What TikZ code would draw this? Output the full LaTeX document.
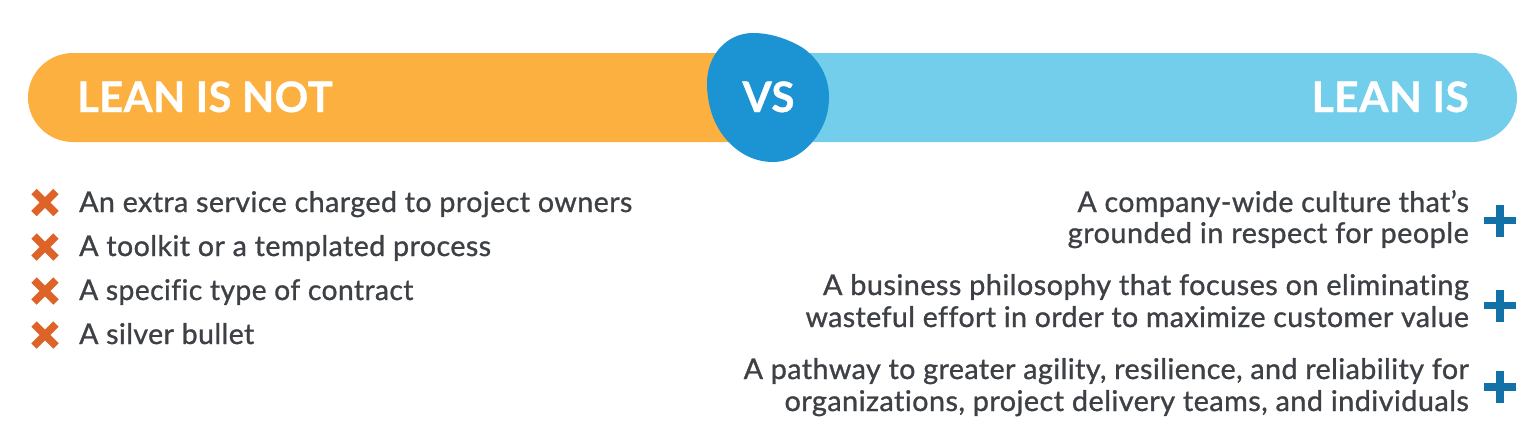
\documentclass[tikz,border=0pt]{standalone}
\usepackage{fontspec}
\setmainfont{Lato}
\newfontfamily\bodyfont[FakeBold=1,LetterSpace=1.5,Ligatures=NoCommon]{Lato}
\newfontfamily\headfont[FakeBold=0.8,LetterSpace=1]{Lato Bold}
\definecolor{orangebar}{HTML}{FBB040}
\definecolor{bluebar}{HTML}{73CEEB}
\definecolor{blobblue}{HTML}{1C93D2}
\definecolor{crossc}{HTML}{DE6328}
\definecolor{plusc}{HTML}{1272A8}
\definecolor{textc}{HTML}{3D4044}
\tikzset{
  x=1pt,y=-1pt,
  title/.style={text=white,inner sep=0pt,font=\headfont\fontsize{42}{42}\selectfont},
  itemL/.style={text=textc,inner sep=0pt,anchor=base west,font=\bodyfont\fontsize{28.5}{28.5}\selectfont},
  itemR/.style={text=textc,inner sep=0pt,anchor=base east,font=\bodyfont\fontsize{28.5}{28.5}\selectfont},
  crossm/.style={crossc,line width=7.6pt},
  plusm/.style={plusc,line width=7.3pt},
}
\newcommand{\crossat}[2]{\draw[crossm] (#1-11,#2-11) -- (#1+11,#2+11) (#1-11,#2+11) -- (#1+11,#2-11);}
\newcommand{\plusat}[2]{\draw[plusm] (#1-16,#2) -- (#1+16,#2) (#1,#2-16) -- (#1,#2+16);}
\newcommand{\hfit}[2]{\scalebox{#1}[1]{#2}}
\begin{document}
\begin{tikzpicture}
\useasboundingbox (0,0) rectangle (1536,447);
\fill[orangebar] (760,53) -- (73,53) arc[start angle=90,end angle=270,x radius=45,y radius=-44.5] -- (760,142) -- cycle;
\fill[bluebar] (770,53) -- (1472,53) arc[start angle=90,end angle=-90,x radius=45,y radius=-44.5] -- (770,142) -- cycle;
\fill[blobblue] (753,33) .. controls (772,33) and (790,40) .. (803,48)
  .. controls (820,60) and (829,78) .. (829,97)
  .. controls (829,112) and (825,124) .. (817,136)
  .. controls (806,152) and (790,162) .. (773,162)
  .. controls (753,162) and (735,152) .. (722,134)
  .. controls (712,120) and (707,102) .. (707,83)
  .. controls (707,55) and (727,33) .. (753,33) -- cycle;
\node[title,anchor=base west] (not) at (77,112) {\hfit{0.993}{LEAN IS NOT}};
\node[title,anchor=base] (vs) at (768.5,112) {VS};
\node[title,anchor=base east] (is) at (1469,112) {\hfit{1.012}{LEAN IS}};
\crossat{45}{202.5}\crossat{45}{247}\crossat{45}{291}\crossat{45}{335}
\node[itemL] (l1) at (79,212) {\hfit{1.005}{An extra service charged to project owners}};
\node[itemL] (l2) at (79,256) {\hfit{1.005}{A toolkit or a templated process}};
\node[itemL] (l3) at (79,300) {\hfit{0.99}{A specific type of contract}};
\node[itemL] (l4) at (79,344) {A silver bullet};
\node[itemR] (r1) at (1469,212) {A company-wide culture that’s};
\node[itemR] (r2) at (1469,243) {\hfit{1.015}{grounded in respect for people}};
\node[itemR] (r3) at (1469,295) {\hfit{1.0125}{A business philosophy that focuses on eliminating}};
\node[itemR] (r4) at (1469,327) {wasteful effort in order to maximize customer value};
\node[itemR] (r5) at (1469,379) {\hfit{1.0055}{A pathway to greater agility, resilience, and reliability for}};
\node[itemR] (r6) at (1469,411) {\hfit{1.012}{organizations, project delivery teams, and individuals}};
\plusat{1500}{220.5}\plusat{1500}{305.5}\plusat{1500}{387}
\end{tikzpicture}
\end{document}
